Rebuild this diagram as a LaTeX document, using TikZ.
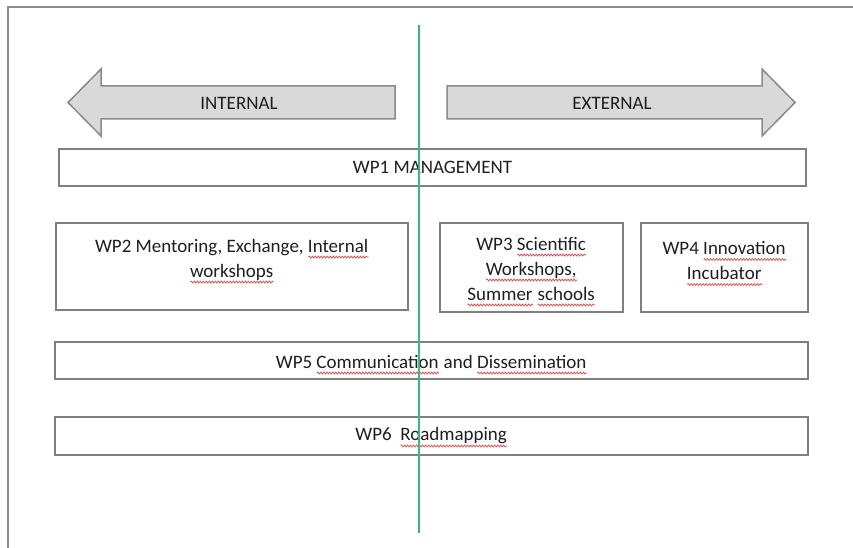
\documentclass[tikz,border=0pt]{standalone}
\usepackage{fontspec}
\setmainfont{Carlito}
\usetikzlibrary{decorations.pathmorphing}
\definecolor{framegray}{HTML}{8C8C8C}
\definecolor{boxgray}{HTML}{7F7F7F}
\definecolor{arrowfill}{HTML}{D9D9D9}
\definecolor{arrowline}{HTML}{8A8A8A}
\definecolor{textgray}{HTML}{1E1E1E}
\definecolor{spellred}{HTML}{E04848}
\definecolor{divgreen}{HTML}{3DB67A}
\newsavebox\splbox
\newcommand\spl[1]{\sbox\splbox{#1}\leavevmode\rlap{\usebox\splbox}\raisebox{-5pt}[0pt][0pt]{\tikz[baseline=0pt,x=1pt,y=1pt]\draw[spellred,line width=0.7pt,decorate,decoration={snake,amplitude=1pt,segment length=3pt}] (0pt,0pt) -- (\wd\splbox,0pt);}}
\tikzset{
  wpbox/.style={draw=boxgray, line width=1.5pt, rectangle, inner sep=0pt},
  wptext/.style={text=textgray, align=center, font=\fontsize{19}{25}\selectfont, inner sep=0pt},
  bigarrow/.style={draw=arrowline, fill=arrowfill, line width=1.5pt, line join=miter},
  divider/.style={draw=divgreen, line width=2pt},
  framel/.style={draw=framegray, line width=2.5pt}
}
\begin{document}
\begin{tikzpicture}[x=1pt,y=-1pt]
\useasboundingbox (0,0) rectangle (853,548);
% frame
\draw[framel] (8,560) -- (8,7) -- (860,7);
% arrows
\draw[bigarrow] (68,102.5) -- (101,69) -- (101,86) -- (395,86) -- (395,119) -- (101,119) -- (101,136) -- cycle;
\draw[bigarrow] (447,86) -- (762,86) -- (762,69) -- (795,102.5) -- (762,136) -- (762,119) -- (447,119) -- cycle;
\node[wptext] (internal) at (239,103) {INTERNAL};
\node[wptext] (external) at (612,103) {EXTERNAL};
% boxes
\node[wpbox, minimum width=747pt, minimum height=37pt] (wp1) at (432.5,167.5) {};
\node[wptext] (wp1t) at (wp1.center) {WP1 MANAGEMENT};
\node[wpbox, minimum width=352pt, minimum height=87pt] (wp2) at (232,266.5) {};
\node[wptext] (wp2t) at ([yshift=7pt]wp2.center) {WP2 Mentoring, Exchange, \spl{Internal}\\\spl{workshops}};
\node[wpbox, minimum width=183pt, minimum height=89pt] (wp3) at (531.5,267.5) {};
\node[wptext] (wp3t) at ([yshift=-1pt]wp3.center) {WP3 \spl{Scientific}\\\spl{Workshops,}\\\spl{Summer} \spl{schools}};
\node[wpbox, minimum width=167pt, minimum height=89pt] (wp4) at (724.5,267.5) {};
\node[wptext] (wp4t) at ([yshift=7pt]wp4.center) {WP4 \spl{Innovation}\\\spl{Incubator}};
\node[wpbox, minimum width=753pt, minimum height=37pt] (wp5) at (431.5,360.5) {};
\node[wptext] (wp5t) at ([yshift=-1pt]wp5.center) {WP5 \spl{Communication} and \spl{Dissemination}};
\node[wpbox, minimum width=753pt, minimum height=38pt] (wp6) at (431.5,436) {};
\node[wptext] (wp6t) at (wp6.center) {WP6\ \ \spl{Roadmapping}};
% divider
\coordinate (gtop) at (419,25);
\coordinate (gbot) at (419,533);
\draw[divider] (gtop) -- (gbot);
\end{tikzpicture}
\end{document}
